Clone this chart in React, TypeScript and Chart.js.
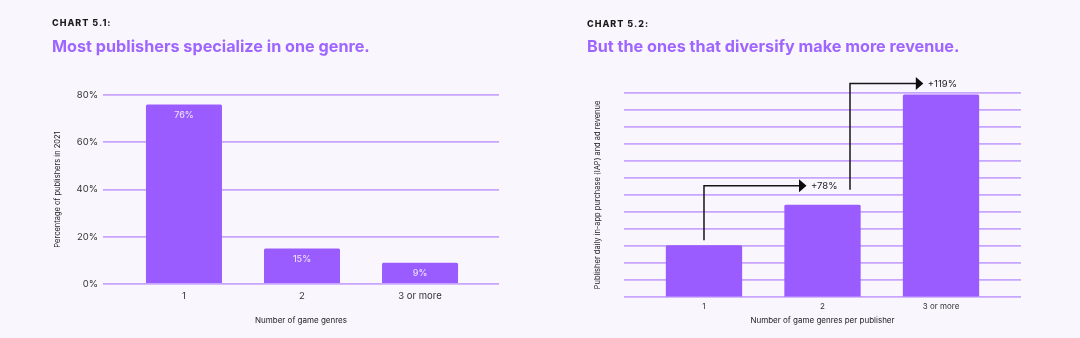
import React, { useEffect, useRef } from 'react';
import { Chart, registerables } from 'chart.js';

Chart.register(...registerables);

// ---- Chart 5.1 data ----
const genreCategories = ['1', '2', '3 or more'];
const publisherShare = [76, 15, 9];
const shareMax = 80;
const shareStep = 20;

// ---- Chart 5.2 data ----
const revenueCategories = ['1', '2', '3 or more'];
const revenueIndex = [3.05, 5.43, 11.89];
const revenueMax = 12;
const growthLabels = ['+78%', '+119%'];

const BG = '#f9f6fe';
const BAR = '#9b5cff';
const GRID = '#c8a5ff';
const TITLE_PURPLE = '#9f65ff';
const FONT = 'Inter, "Noto Sans", "Liberation Sans", sans-serif';

const barLabelPlugin = {
  id: 'barLabels',
  afterDatasetsDraw(chart: any) {
    const ctx = chart.ctx;
    const meta = chart.getDatasetMeta(0);
    ctx.save();
    ctx.font = `500 9px ${FONT}`;
    ctx.fillStyle = 'rgba(255,255,255,0.78)';
    ctx.textAlign = 'center';
    ctx.textBaseline = 'middle';
    meta.data.forEach((bar: any, i: number) => {
      ctx.fillText(`${publisherShare[i]}%`, bar.x, bar.y + 10.5);
    });
    ctx.restore();
  },
};

const growthArrowPlugin = {
  id: 'growthArrows',
  afterDatasetsDraw(chart: any) {
    const ctx = chart.ctx;
    const meta = chart.getDatasetMeta(0);
    const [b0, b1, b2] = meta.data;
    const arrows = [
      { x0: b0.x, y0: b0.y - 5, yh: b1.y - 19, tip: b1.x - 16, label: growthLabels[0] },
      { x0: b1.x + 27.5, y0: b1.y - 15, yh: b2.y - 11, tip: b2.x - 17.7, label: growthLabels[1] },
    ];
    ctx.save();
    arrows.forEach((a) => {
      ctx.strokeStyle = '#161616';
      ctx.lineWidth = 1.5;
      ctx.beginPath();
      ctx.moveTo(a.x0, a.y0);
      ctx.lineTo(a.x0, a.yh);
      ctx.lineTo(a.tip - 7, a.yh);
      ctx.stroke();
      ctx.fillStyle = '#0d0d0d';
      ctx.beginPath();
      ctx.moveTo(a.tip - 7.5, a.yh - 6.5);
      ctx.lineTo(a.tip, a.yh);
      ctx.lineTo(a.tip - 7.5, a.yh + 6.5);
      ctx.closePath();
      ctx.fill();
      ctx.font = `400 9.5px ${FONT}`;
      ctx.fillStyle = '#222';
      ctx.textAlign = 'left';
      ctx.textBaseline = 'middle';
      ctx.fillText(a.label, a.tip + 4.5, a.yh + 0.5);
    });
    ctx.restore();
  },
};

function indexAxis(categories: string[], min: number, max: number, fontSize: number, pad: number, title: string, height: number): any {
  return {
    type: 'linear',
    min,
    max,
    offset: false,
    bounds: 'data',
    grace: 0,
    grid: { display: false, drawTicks: false },
    border: { display: false },
    afterBuildTicks: (s: any) => {
      s.ticks = categories.map((_, i) => ({ value: i }));
    },
    ticks: {
      callback: (v: any) => categories[v],
      font: { family: FONT, size: fontSize },
      color: '#333',
      padding: pad,
      maxRotation: 0,
      autoSkip: false,
    },
    title: {
      display: true,
      text: title,
      font: { family: FONT, size: 8 },
      color: '#222',
      padding: { top: 0, bottom: 12.2 },
    },
    afterFit: (s: any) => {
      s.height = height;
    },
  };
}

function makeLeftConfig(): any {
  return {
    type: 'bar',
    data: {
      datasets: [
        {
          data: genreCategories.map((_, i) => ({ x: i, y: publisherShare[i] })),
          backgroundColor: BAR,
          borderRadius: 1.5,
          borderSkipped: 'bottom',
          barPercentage: 0.644,
          categoryPercentage: 1,
        },
      ],
    },
    plugins: [barLabelPlugin],
    options: {
      animation: false,
      responsive: false,
      devicePixelRatio: 1,
      layout: { padding: { top: 95, right: 41, left: 0, bottom: 0 } },
      plugins: { legend: { display: false }, tooltip: { enabled: false } },
      scales: {
        x: indexAxis(genreCategories, -0.686, 2.669, 9.5, 6, 'Number of game genres', 54),
        y: {
          min: 0,
          max: shareMax,
          ticks: {
            stepSize: shareStep,
            callback: (v: any) => `${v}%`,
            padding: 5,
            font: { family: FONT, size: 9.5 },
            color: '#333',
          },
          grid: { color: GRID, lineWidth: 1.8, drawTicks: false },
          border: { display: false },
          title: {
            display: true,
            text: 'Percentage of publishers in 2021',
            font: { family: FONT, size: 7.5 },
            color: '#222',
            padding: { top: 53.5, bottom: 0 },
          },
          afterFit: (s: any) => {
            s.width = 103;
          },
        },
      },
    },
  };
}

function makeRightConfig(): any {
  return {
    type: 'bar',
    data: {
      datasets: [
        {
          data: revenueCategories.map((_, i) => ({ x: i, y: revenueIndex[i] })),
          backgroundColor: BAR,
          borderRadius: 1.5,
          borderSkipped: 'bottom',
          barPercentage: 0.644,
          categoryPercentage: 1,
        },
      ],
    },
    plugins: [growthArrowPlugin],
    options: {
      animation: false,
      responsive: false,
      devicePixelRatio: 1,
      layout: { padding: { top: 92.7, right: 59, left: 0, bottom: 0 } },
      plugins: { legend: { display: false }, tooltip: { enabled: false } },
      scales: {
        x: indexAxis(revenueCategories, -0.675, 2.675, 8, 4.3, 'Number of game genres per publisher', 40.7),
        y: {
          min: 0,
          max: revenueMax,
          ticks: { display: false, stepSize: 1 },
          grid: { color: GRID, lineWidth: 1.8, drawTicks: false },
          border: { display: false },
          title: {
            display: true,
            text: 'Publisher daily in-app purchase (IAP) and ad revenue',
            font: { family: FONT, size: 7.5 },
            color: '#222',
            padding: { top: 53.5, bottom: 0 },
          },
          afterFit: (s: any) => {
            s.width = 84;
          },
        },
      },
    },
  };
}

const labelStyle: React.CSSProperties = {
  position: 'absolute',
  fontFamily: FONT,
  fontWeight: 800,
  fontSize: 9,
  lineHeight: '9px',
  letterSpacing: '1px',
  color: '#1a1a1a',
  whiteSpace: 'nowrap',
};

const titleStyle: React.CSSProperties = {
  position: 'absolute',
  fontFamily: FONT,
  fontWeight: 700,
  fontSize: 16.2,
  lineHeight: '16.2px',
  color: TITLE_PURPLE,
  whiteSpace: 'nowrap',
};

export default function App() {
  const leftRef = useRef<HTMLCanvasElement>(null);
  const rightRef = useRef<HTMLCanvasElement>(null);

  useEffect(() => {
    document.body.style.margin = '0';
    document.body.style.background = BG;
    const left = new Chart(leftRef.current as HTMLCanvasElement, makeLeftConfig());
    const right = new Chart(rightRef.current as HTMLCanvasElement, makeRightConfig());
    return () => {
      left.destroy();
      right.destroy();
    };
  }, []);

  return (
    <div
      style={{
        position: 'fixed',
        left: 0,
        top: 0,
        width: 1080,
        height: 338,
        background: BG,
        overflow: 'hidden',
      }}
    >
      <canvas
        ref={leftRef}
        width={540}
        height={338}
        style={{ position: 'absolute', left: 0, top: 0, width: 540, height: 338 }}
      />
      <canvas
        ref={rightRef}
        width={540}
        height={338}
        style={{ position: 'absolute', left: 540, top: 0, width: 540, height: 338 }}
      />
      <div style={{ ...labelStyle, left: 52, top: 18 }}>CHART 5.1:</div>
      <div style={{ ...titleStyle, left: 52, top: 37.9 }}>Most publishers specialize in one genre.</div>
      <div style={{ ...labelStyle, left: 587, top: 18.7 }}>CHART 5.2:</div>
      <div style={{ ...titleStyle, left: 587, top: 37.9 }}>But the ones that diversify make more revenue.</div>
    </div>
  );
}
